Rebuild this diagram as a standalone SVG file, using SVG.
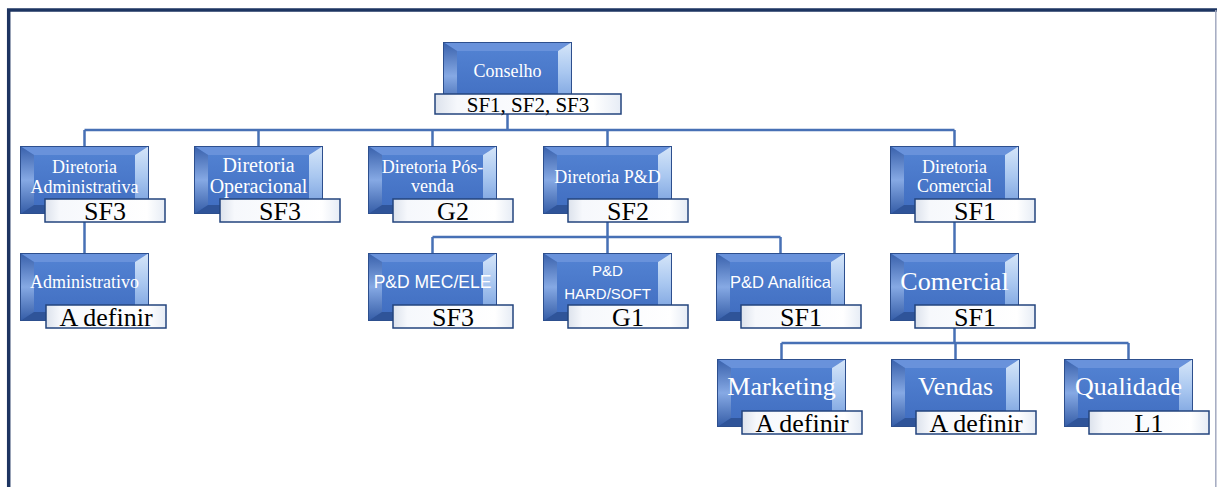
<svg xmlns="http://www.w3.org/2000/svg" xmlns:xlink="http://www.w3.org/1999/xlink" width="1217" height="487" viewBox="0 0 1217 487">
  <style>
    .frame { fill: none; stroke: #1d3461; stroke-width: 3.5; }
    .edge { fill: none; stroke: #4770b5; stroke-width: 2.5; }
    .name { font-family: "Liberation Serif", "Times New Roman", serif; fill: #ffffff; text-anchor: middle; }
    .name-sans { font-family: "Liberation Sans", Arial, sans-serif; fill: #ffffff; text-anchor: middle; }
    .title { font-family: "Liberation Serif", "Times New Roman", serif; fill: #000000; text-anchor: middle; font-size: 26px; }
    .title.small { font-size: 21px; }
    .tbox { fill: url(#titleFill); stroke: #23447e; stroke-width: 1.5; }
  </style>
  <defs>
    <linearGradient id="faceFill" x1="0" y1="0" x2="0" y2="1">
      <stop offset="0" stop-color="#5484d4"/>
      <stop offset="1" stop-color="#3f6cbf"/>
    </linearGradient>
    <linearGradient id="leftFill" x1="0" y1="0" x2="0" y2="1">
      <stop offset="0" stop-color="#3860ab"/>
      <stop offset="0.5" stop-color="#86a9e4"/>
      <stop offset="1" stop-color="#345ca6"/>
    </linearGradient>
    <linearGradient id="rightFill" x1="0" y1="0" x2="0" y2="1">
      <stop offset="0" stop-color="#d6e6f9"/>
      <stop offset="0.45" stop-color="#a9c7f0"/>
      <stop offset="1" stop-color="#6d97da"/>
    </linearGradient>
    <linearGradient id="titleFill" x1="0" y1="0" x2="1" y2="0">
      <stop offset="0" stop-color="#dce2ec"/>
      <stop offset="0.12" stop-color="#f6f8fc"/>
      <stop offset="0.85" stop-color="#ffffff"/>
      <stop offset="1" stop-color="#e6ecf5"/>
    </linearGradient>
    <!-- bevelled blue name box, 129 x 68 -->
    <g id="bevel-box">
      <rect x="0" y="0" width="129" height="68" fill="url(#faceFill)"/>
      <polygon points="0,0 129,0 115,9 14,9" fill="#6992db"/>
      <polygon points="0,0 14,9 14,59 0,68" fill="url(#leftFill)"/>
      <polygon points="129,0 129,68 115,59 115,9" fill="url(#rightFill)"/>
      <polygon points="0,68 14,59 115,59 129,68" fill="#2f5499"/>
      <rect x="0.5" y="0.5" width="128" height="67" fill="none" stroke="#2d4f8e" stroke-width="1"/>
    </g>
  </defs>

  <rect width="1217" height="487" fill="#ffffff"/>
  <!-- page frame -->
  <path class="frame" d="M8.7,487 V10 H1217"/>
  <line x1="1215.8" y1="10" x2="1215.8" y2="487" stroke="#a3aac0" stroke-width="1.5"/>

  <!-- connectors -->
  <g id="connectors">
    <path class="edge" d="M507.5,110 V130 M84.5,130 H954.5 M84.5,130 V146 M258.5,130 V146 M432.5,130 V146 M607.5,130 V146 M954.5,130 V146"/>
    <path class="edge" d="M84.5,214 V253"/>
    <path class="edge" d="M607.5,214 V237 M432.5,237 H780.5 M432.5,237 V253 M607.5,237 V253 M780.5,237 V253"/>
    <path class="edge" d="M954.5,214 V253"/>
    <path class="edge" d="M954.5,320 V343 M781.5,343 H1128.5 M781.5,343 V359 M955.5,343 V359 M1128.5,343 V359"/>
  </g>

  <g id="conselho">
    <use href="#bevel-box" x="443" y="42"/>
    <text class="name" x="507.5" y="77" font-size="18">Conselho</text>
    <rect class="tbox" x="435" y="94" width="186" height="20"/>
    <text class="title small" x="528" y="112">SF1, SF2, SF3</text>
  </g>

  <g id="dir-administrativa">
    <use href="#bevel-box" x="20" y="146"/>
    <text class="name" x="84.5" y="173" font-size="18">Diretoria</text>
    <text class="name" x="84.5" y="193" font-size="18">Administrativa</text>
    <rect class="tbox" x="45" y="199" width="120" height="23"/>
    <text class="title" x="105" y="220">SF3</text>
  </g>

  <g id="dir-operacional">
    <use href="#bevel-box" x="194" y="146"/>
    <text class="name" x="258.5" y="172" font-size="20">Diretoria</text>
    <text class="name" x="258.5" y="193" font-size="20">Operacional</text>
    <rect class="tbox" x="220" y="199" width="120" height="23"/>
    <text class="title" x="280" y="220">SF3</text>
  </g>

  <g id="dir-posvenda">
    <use href="#bevel-box" x="368" y="146"/>
    <text class="name" x="432.5" y="173" font-size="18">Diretoria Pós-</text>
    <text class="name" x="432.5" y="192" font-size="18">venda</text>
    <rect class="tbox" x="393" y="199" width="120" height="23"/>
    <text class="title" x="453" y="220">G2</text>
  </g>

  <g id="dir-pd">
    <use href="#bevel-box" x="543" y="146"/>
    <text class="name" x="607.5" y="183" font-size="18">Diretoria P&amp;D</text>
    <rect class="tbox" x="568" y="199" width="120" height="23"/>
    <text class="title" x="628" y="220">SF2</text>
  </g>

  <g id="dir-comercial">
    <use href="#bevel-box" x="890" y="146"/>
    <text class="name" x="954.5" y="173" font-size="18">Diretoria</text>
    <text class="name" x="954.5" y="192" font-size="18">Comercial</text>
    <rect class="tbox" x="915" y="199" width="120" height="23"/>
    <text class="title" x="975" y="220">SF1</text>
  </g>

  <g id="administrativo">
    <use href="#bevel-box" x="20" y="253"/>
    <text class="name" x="84.5" y="288" font-size="18">Administrativo</text>
    <rect class="tbox" x="46" y="305" width="120" height="23"/>
    <text class="title" x="106" y="326">A definir</text>
  </g>

  <g id="pd-mec-ele">
    <use href="#bevel-box" x="368" y="253"/>
    <text class="name-sans" x="432.5" y="288" font-size="17.5">P&amp;D MEC/ELE</text>
    <rect class="tbox" x="393" y="305" width="120" height="23"/>
    <text class="title" x="453" y="326">SF3</text>
  </g>

  <g id="pd-hard-soft">
    <use href="#bevel-box" x="543" y="253"/>
    <text class="name-sans" x="607.5" y="276" font-size="15">P&amp;D</text>
    <text class="name-sans" x="607.5" y="299" font-size="15">HARD/SOFT</text>
    <rect class="tbox" x="568" y="305" width="120" height="23"/>
    <text class="title" x="628" y="326">G1</text>
  </g>

  <g id="pd-analitica">
    <use href="#bevel-box" x="716" y="253"/>
    <text class="name-sans" x="780.5" y="288" font-size="16.5">P&amp;D Analítica</text>
    <rect class="tbox" x="741" y="305" width="120" height="23"/>
    <text class="title" x="801" y="326">SF1</text>
  </g>

  <g id="comercial">
    <use href="#bevel-box" x="890" y="253"/>
    <text class="name" x="954.5" y="290" font-size="26">Comercial</text>
    <rect class="tbox" x="915" y="305" width="120" height="23"/>
    <text class="title" x="975" y="326">SF1</text>
  </g>

  <g id="marketing">
    <use href="#bevel-box" x="717" y="359"/>
    <text class="name" x="781.5" y="395" font-size="26">Marketing</text>
    <rect class="tbox" x="742" y="411" width="120" height="23"/>
    <text class="title" x="802" y="432">A definir</text>
  </g>

  <g id="vendas">
    <use href="#bevel-box" x="891" y="359"/>
    <text class="name" x="955.5" y="395" font-size="26">Vendas</text>
    <rect class="tbox" x="916" y="411" width="120" height="23"/>
    <text class="title" x="976" y="432">A definir</text>
  </g>

  <g id="qualidade">
    <use href="#bevel-box" x="1064" y="359"/>
    <text class="name" x="1128.5" y="395" font-size="26">Qualidade</text>
    <rect class="tbox" x="1089" y="411" width="120" height="23"/>
    <text class="title" x="1149" y="432">L1</text>
  </g>
</svg>
